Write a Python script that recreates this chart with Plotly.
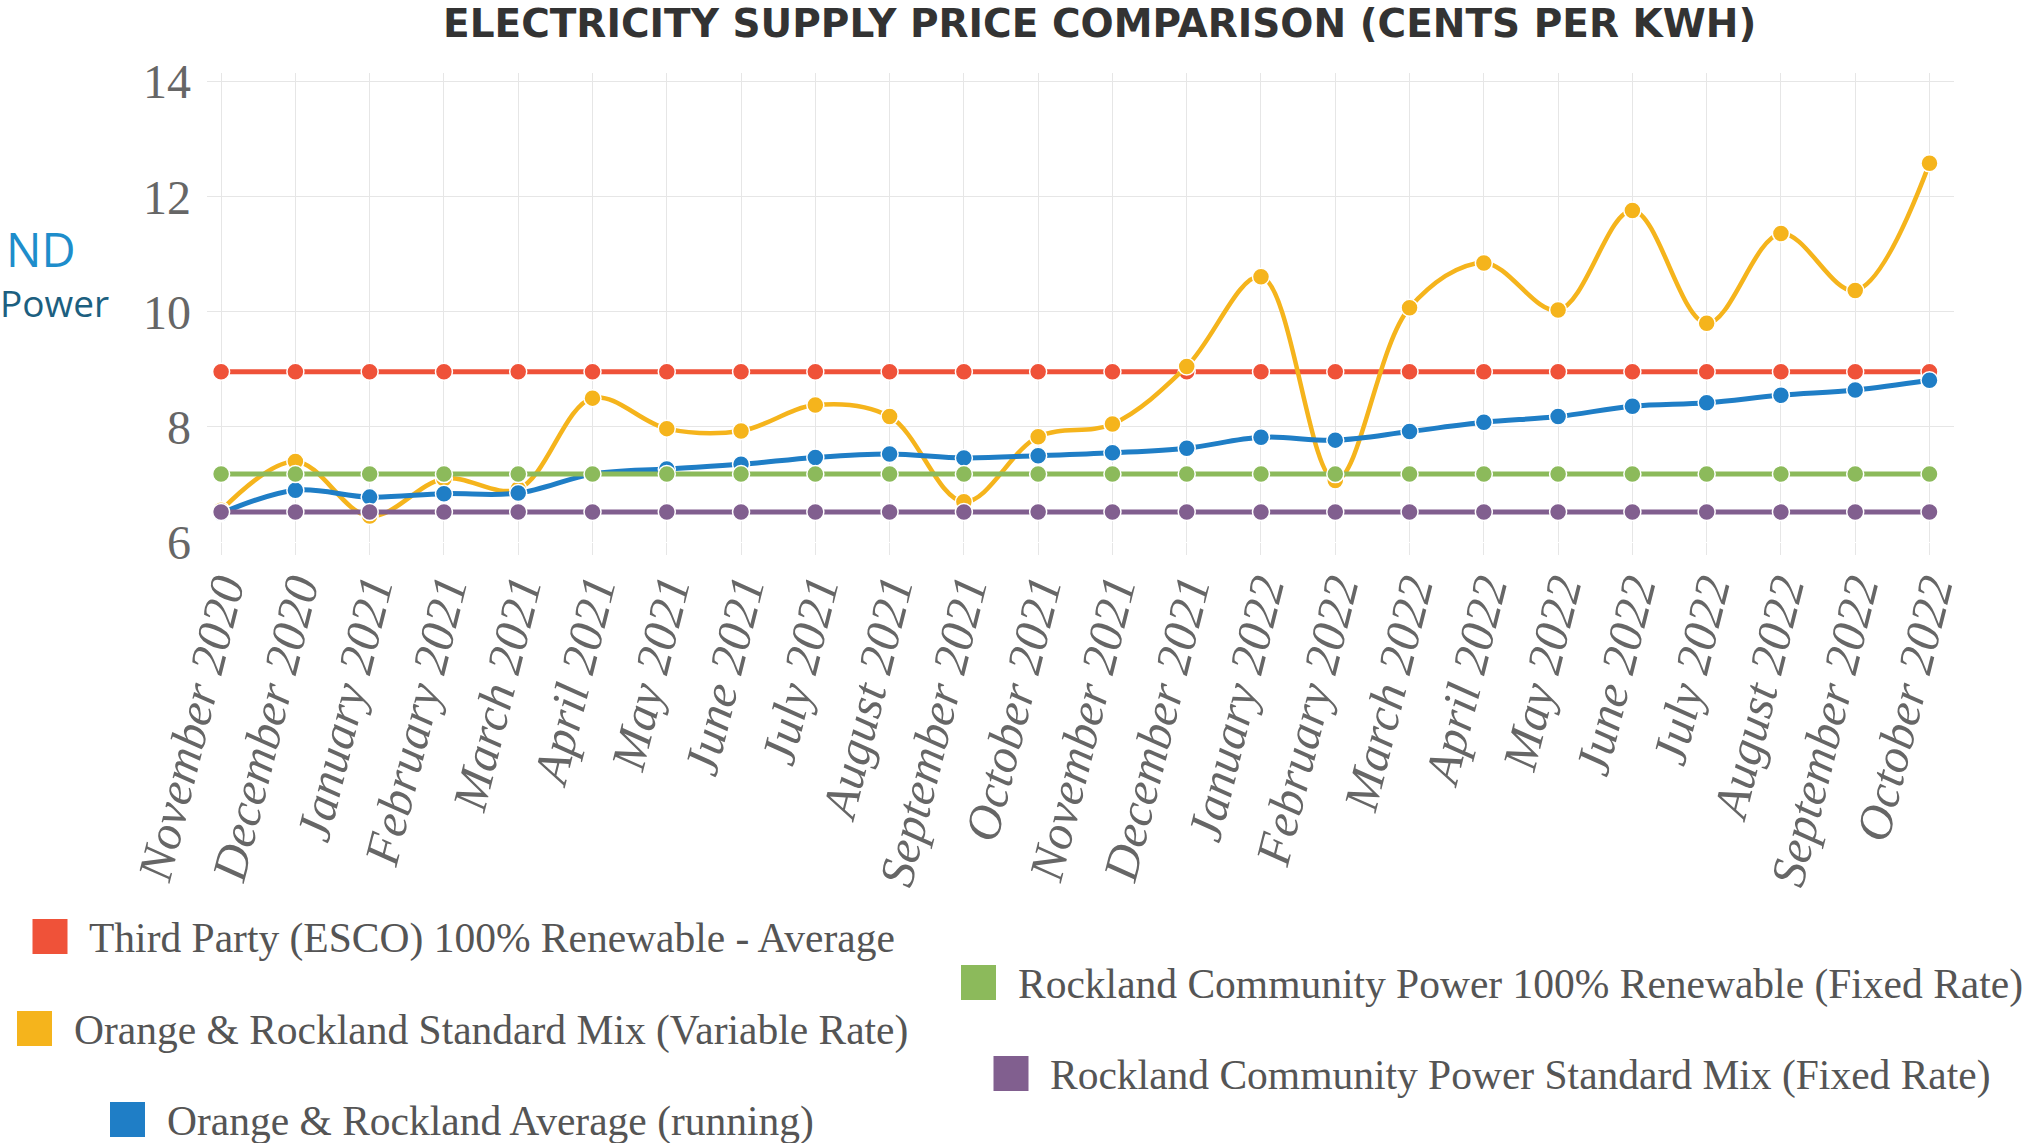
import plotly.graph_objects as go

W, H = 2028, 1143
ML, MR, MT, MB = 207, 74, 73, 601

months = ["November 2020", "December 2020", "January 2021", "February 2021", "March 2021",
          "April 2021", "May 2021", "June 2021", "July 2021", "August 2021", "September 2021",
          "October 2021", "November 2021", "December 2021", "January 2022", "February 2022",
          "March 2022", "April 2022", "May 2022", "June 2022", "July 2022", "August 2022",
          "September 2022", "October 2022"]

third_party = [8.96] * 24
or_standard = [6.55, 7.40, 6.45, 7.10, 6.92, 8.50, 7.97, 7.93, 8.38, 8.18, 6.70, 7.83,
               8.05, 9.05, 10.61, 7.07, 10.07, 10.85, 10.03, 11.76, 9.80, 11.36, 10.37, 12.58]
or_average = [6.50, 6.90, 6.78, 6.84, 6.85, 7.18, 7.27, 7.35, 7.47, 7.53, 7.46, 7.50,
              7.55, 7.63, 7.82, 7.77, 7.92, 8.08, 8.18, 8.36, 8.42, 8.55, 8.64, 8.81]
rcp_renewable = [7.18] * 24
rcp_standard = [6.52] * 24

series = [
    ("Third Party (ESCO) 100% Renewable - Average", third_party, "#EF5239", 5, "linear"),
    ("Orange & Rockland Standard Mix (Variable Rate)", or_standard, "#F5B41C", 4.5, "spline"),
    ("Orange & Rockland Average (running)", or_average, "#1F7EC6", 5, "spline"),
    ("Rockland Community Power 100% Renewable (Fixed Rate)", rcp_renewable, "#8CBA5B", 5, "linear"),
    ("Rockland Community Power Standard Mix (Fixed Rate)", rcp_standard, "#815F8F", 5, "linear"),
]

fig = go.Figure()
for name, vals, color, lw, shape in series:
    fig.add_trace(go.Scatter(
        x=months, y=vals, name=name, mode="lines+markers",
        line=dict(color=color, width=lw, shape=shape, smoothing=1.0),
        marker=dict(color=color, size=17, line=dict(color="white", width=1.5)),
        showlegend=False,
    ))

PW = W - ML - MR
PH = H - MT - MB


def px(x):
    return (x - ML) / PW


def py(y):
    return (H - MB - y) / PH


annotations = []
shapes = []

# Title
annotations.append(dict(
    text="<b>ELECTRICITY SUPPLY PRICE COMPARISON (CENTS PER KWH)</b>",
    x=px(1099), y=py(24), xref="paper", yref="paper", xanchor="center", yanchor="middle",
    showarrow=False, font=dict(family="DejaVu Sans", size=39, color="#333333")))

# Logo fragments on the left
annotations.append(dict(
    text="ND", x=px(4), y=py(249), xref="paper", yref="paper", xanchor="left", yanchor="middle",
    showarrow=False, font=dict(family="Open Sans", size=47, color="#1E8DCB")))
annotations.append(dict(
    text="Power", x=px(-2), y=py(302), xref="paper", yref="paper", xanchor="left", yanchor="middle",
    showarrow=False, font=dict(family="Open Sans", size=37, color="#1C5F80")))

# Custom legend (square + text)
legend_pos = [
    (50, 936.5, 87),
    (34.5, 1028.5, 72),
    (127.5, 1119.5, 165),
    (978.5, 982.5, 1016),
    (1011, 1073.5, 1048),
]
SQ = 35
for (name, vals, color, lw, shape), (sx, sy, tx) in zip(series, legend_pos):
    shapes.append(dict(type="rect", xref="paper", yref="paper",
                       x0=px(sx - SQ / 2), x1=px(sx + SQ / 2),
                       y0=py(sy + SQ / 2), y1=py(sy - SQ / 2),
                       fillcolor=color, line=dict(width=0)))
    annotations.append(dict(
        text=name, x=px(tx), y=py(sy + 2), xref="paper", yref="paper",
        xanchor="left", yanchor="middle", showarrow=False,
        font=dict(family="Liberation Serif", size=41.5, color="#555555")))

fig.update_layout(
    width=W, height=H,
    margin=dict(l=ML, r=MR, t=MT, b=MB, pad=0, autoexpand=False),
    paper_bgcolor="white", plot_bgcolor="white",
    xaxis=dict(
        type="category", range=[-0.19, 23.33],
        showgrid=True, gridcolor="#E6E6E6", gridwidth=1,
        ticks="outside", ticklen=12, tickcolor="#E6E6E6", tickwidth=1,
        tickangle=-76, showline=False, zeroline=False, automargin=False,
        ticklabelstandoff=-14,
        tickfont=dict(family="Liberation Serif", size=49, color="#666666", style="italic"),
    ),
    yaxis=dict(
        range=[6, 14.15], tick0=6, dtick=2,
        showgrid=True, gridcolor="#E6E6E6", gridwidth=1,
        showline=False, zeroline=False, ticks="", automargin=False,
        ticklabelstandoff=15,
        tickfont=dict(family="Liberation Serif", size=48, color="#666666"),
    ),
    annotations=annotations,
    shapes=shapes,
    showlegend=False,
)

fig.write_html("out.html", config={"displayModeBar": False},
               post_script="document.body.style.margin='0';document.body.style.overflow='hidden';")
